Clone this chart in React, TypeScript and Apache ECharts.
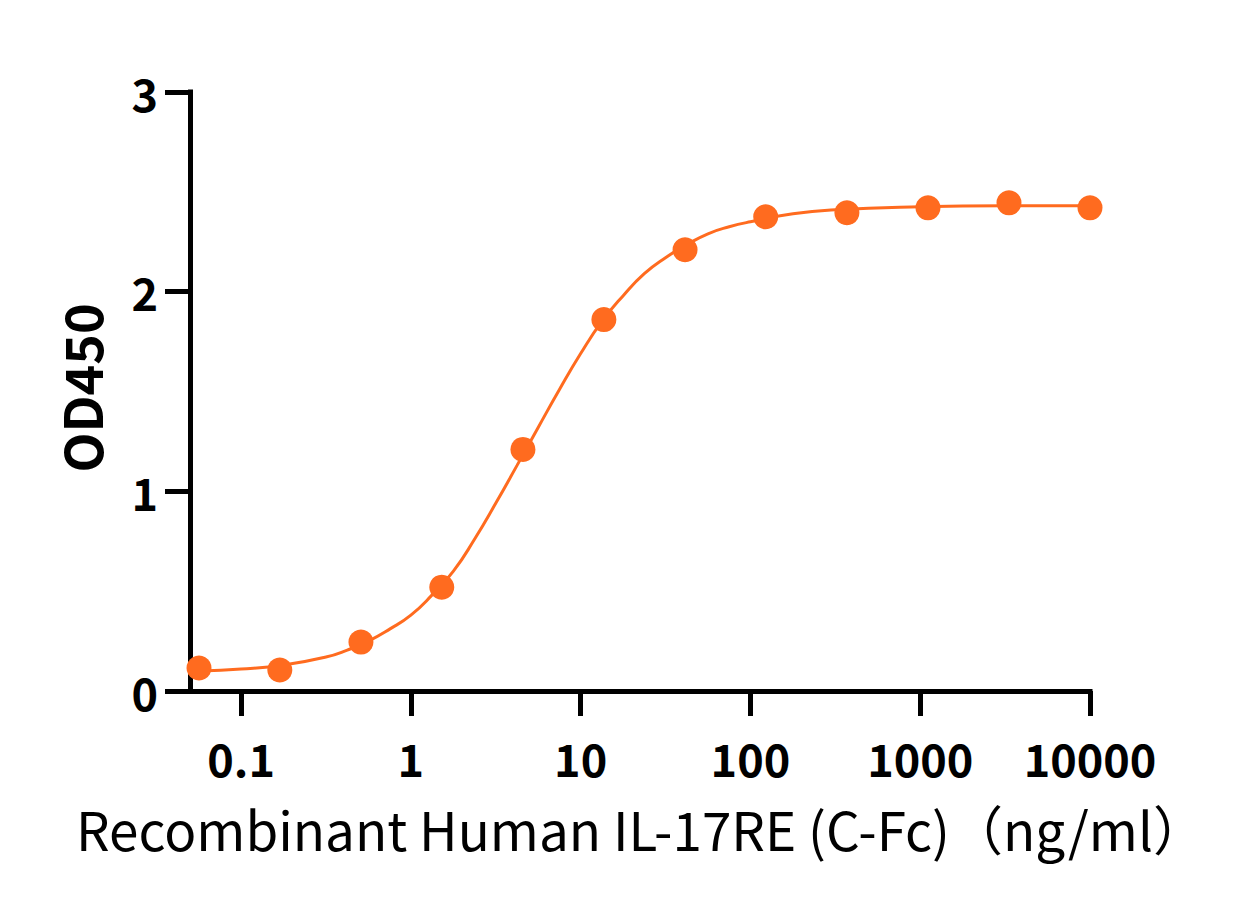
import React, { useEffect, useRef } from "react";
import * as echarts from "echarts";

// Measured points: concentration (ng/ml) and OD450
const concentrations = [0.0565, 0.169, 0.508, 1.52, 4.57, 13.7, 41.2, 123, 370, 1111, 3333, 10000];
const od450 = [0.115, 0.105, 0.245, 0.52, 1.21, 1.86, 2.21, 2.375, 2.395, 2.42, 2.445, 2.42];

// Fitted curve, sampled along the concentration range
const fitConcentrations = [
  0.0575, 0.1, 0.178, 0.316, 0.422, 0.562, 0.75, 1, 1.33, 1.78, 2.37, 3.16, 4.22, 5.62, 7.5, 10, 13.3, 17.8,
  23.7, 31.6, 42.2, 56.2, 75, 100, 178, 316, 1000, 3162, 10000,
];
const fitOd450 = [
  0.1, 0.11, 0.13, 0.17, 0.205, 0.25, 0.31, 0.38, 0.48, 0.6, 0.76, 0.94, 1.13, 1.32, 1.51, 1.69, 1.85, 1.98,
  2.09, 2.17, 2.235, 2.29, 2.325, 2.35, 2.39, 2.41, 2.425, 2.43, 2.43,
];

const xTickValues = [0.1, 1, 10, 100, 1000, 10000];
const xTitle = "Recombinant Human IL-17RE (C-Fc)（ng/ml）";
const yTitle = "OD450";

const ORANGE = "#FF6B1F";
const FONT = "'Noto Sans CJK SC', 'Noto Sans', sans-serif";

export default function App() {
  const ref = useRef<HTMLDivElement>(null);

  useEffect(() => {
    if (!ref.current) return;
    const chart = echarts.init(ref.current, null, { renderer: "svg" });

    const points = concentrations.map((c, i) => [c, od450[i]]);
    const fit = fitConcentrations.map((c, i) => [c, fitOd450[i]]);

    chart.setOption({
      animation: false,
      backgroundColor: "#ffffff",
      grid: { left: 190, right: 157, top: 92, bottom: 212, containLabel: false },
      xAxis: {
        type: "log",
        logBase: 10,
        min: 0.05,
        max: 10000,
        axisLine: { show: true, onZero: false, lineStyle: { color: "#000", width: 5, cap: "square" } },
        axisTick: { show: true, inside: false, length: 25, lineStyle: { color: "#000", width: 5 }, customValues: xTickValues },
        axisLabel: {
          show: true,
          customValues: xTickValues,
          margin: 44,
          color: "#000",
          fontFamily: FONT,
          fontSize: 45,
          fontWeight: "bold",
          formatter: (v: number) => String(v),
        },
        splitLine: { show: false },
        minorTick: { show: false },
      },
      yAxis: {
        type: "value",
        min: 0,
        max: 3,
        interval: 1,
        axisLine: { show: true, lineStyle: { color: "#000", width: 5, cap: "square" } },
        axisTick: { show: true, inside: false, length: 25, lineStyle: { color: "#000", width: 5 } },
        axisLabel: {
          margin: 32,
          color: "#000",
          fontFamily: FONT,
          fontSize: 45,
          fontWeight: "bold",
        },
        splitLine: { show: false },
      },
      graphic: [
        {
          type: "text",
          x: 641,
          y: 828,
          style: {
            text: xTitle,
            fill: "#000",
            font: `normal 53px ${FONT}`,
            align: "center",
            verticalAlign: "middle",
          },
        },
        {
          type: "text",
          x: 80,
          y: 388,
          rotation: Math.PI / 2,
          style: {
            text: yTitle,
            fill: "#000",
            font: `bold 52px ${FONT}`,
            align: "center",
            verticalAlign: "middle",
          },
        },
      ],
      series: [
        {
          type: "line",
          data: fit,
          smooth: true,
          showSymbol: false,
          symbol: "none",
          clip: false,
          lineStyle: { color: ORANGE, width: 3 },
          z: 2,
        },
        {
          type: "scatter",
          data: points,
          symbol: "circle",
          symbolSize: 25,
          clip: false,
          itemStyle: { color: ORANGE, opacity: 1 },
          z: 3,
        },
      ],
    });

    return () => chart.dispose();
  }, []);

  return (
    <div
      ref={ref}
      style={{ position: "fixed", left: 0, top: 0, width: 1247, height: 903, background: "#fff" }}
    />
  );
}
